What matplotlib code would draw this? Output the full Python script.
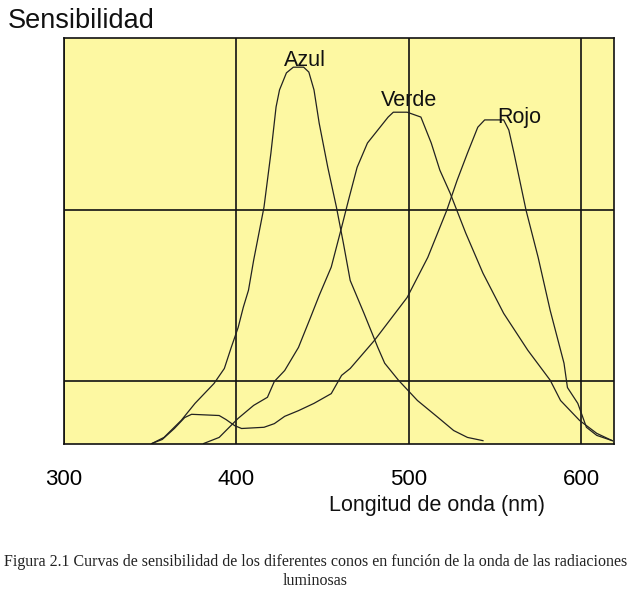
import numpy as np
import matplotlib
matplotlib.use('Agg')
import matplotlib.pyplot as plt

# curves: wavelength (nm) and relative sensitivity (0-100)
azul_nm = [351, 358, 368, 376, 387, 393, 397, 401, 404, 407, 410, 416, 420, 423, 425,
           429, 433, 439, 442, 445, 448, 453, 458, 462, 466, 474, 482, 486, 494, 505,
           517, 526, 534, 543]
azul_s = [0, 1.5, 5.7, 9.9, 14.8, 18.5, 23.7, 28.6, 33.6, 37.8, 45.2, 58.3, 71.6, 83.0,
          87.2, 91.4, 92.8, 92.8, 91.6, 87.2, 79.0, 68.1, 58.3, 49.5, 40.2, 32.1, 23.7,
          19.8, 15.6, 10.6, 6.4, 3.2, 1.5, 0.7]

verde_nm = [381, 390, 401, 410, 418, 422, 428, 436, 443, 448, 455, 461, 465, 470, 476,
            482, 488, 491, 499, 507, 513, 518, 524, 533, 543, 555, 569, 582, 588, 599,
            609, 618]
verde_s = [0, 1.5, 6.2, 9.4, 11.4, 15.3, 18.0, 23.7, 31.1, 36.5, 43.5, 53.3, 60.0, 68.1,
           74.1, 77.3, 80.5, 81.7, 81.7, 80.5, 74.1, 67.4, 61.7, 51.9, 42.0, 32.1, 23.0,
           15.6, 10.6, 5.7, 2.5, 0.7]

rojo_nm = [351, 357, 364, 370, 374, 390, 394, 399, 403, 416, 422, 428, 436, 445, 455,
           461, 466, 480, 499, 511, 522, 528, 534, 540, 544, 555, 558, 561, 568, 575,
           582, 590, 592, 598, 603, 609, 618]
rojo_s = [0, 1.0, 3.7, 6.4, 7.2, 6.9, 5.9, 4.4, 3.7, 4.0, 4.9, 6.7, 8.1, 9.9, 12.3,
          16.8, 18.5, 25.4, 36.0, 45.9, 57.5, 64.9, 71.6, 78.0, 79.8, 79.8, 77.3, 71.6,
          57.5, 45.9, 32.8, 19.8, 13.8, 9.9, 4.0, 2.0, 0.7]

labels = ['Azul', 'Verde', 'Rojo']
label_pos = [(440, 94.5), (500, 84.5), (564, 80.5)]
x_ticks = [300, 400, 500, 600]
y_grid = [15.4, 57.6]

fig = plt.figure(figsize=(6.31, 6.0), dpi=100)
ax = fig.add_axes([64 / 631, 1 - 443.5 / 600, 550 / 631, 405.5 / 600])
ax.set_facecolor('#fdf8a2')

for xs, ys in [(azul_nm, azul_s), (verde_nm, verde_s), (rojo_nm, rojo_s)]:
    ax.plot(xs, ys, color='#222222', lw=0.9)

for name, (lx, ly) in zip(labels, label_pos):
    ax.text(lx, ly, name, ha='center', va='center', fontsize=15.5,
            family='Liberation Sans', color='#111111')

ax.set_xlim(300, 619)
ax.set_ylim(0, 100)
ax.set_xticks(x_ticks)
ax.set_yticks(y_grid)
ax.set_yticklabels([])
ax.tick_params(length=0, pad=18.5)
for t in ax.get_xticklabels():
    t.set_fontsize(16)
    t.set_family('Liberation Sans')
ax.grid(True, color='#111111', lw=1.2)
ax.set_axisbelow(True)
for sp in ax.spines.values():
    sp.set_color('#111111')
    sp.set_linewidth(1.2)

fig.text(8 / 631, 1 - 21 / 600, 'Sensibilidad', ha='left', va='center',
         fontsize=19.5, family='Liberation Sans', color='#111111')
fig.text(437.5 / 631, 1 - 505 / 600, 'Longitud de onda (nm)', ha='center', va='center',
         fontsize=15.5, family='Liberation Sans', color='#111111')
fig.text(0.5, 1 - 562 / 600,
         'Figura 2.1 Curvas de sensibilidad de los diferentes conos en función de la onda de las radiaciones',
         ha='center', va='center', fontsize=11.5, family='Liberation Serif', color='#222222')
fig.text(0.5, 1 - 581 / 600, 'luminosas', ha='center', va='center',
         fontsize=11.5, family='Liberation Serif', color='#222222')

fig.savefig('out.png', dpi=100, facecolor='white')
